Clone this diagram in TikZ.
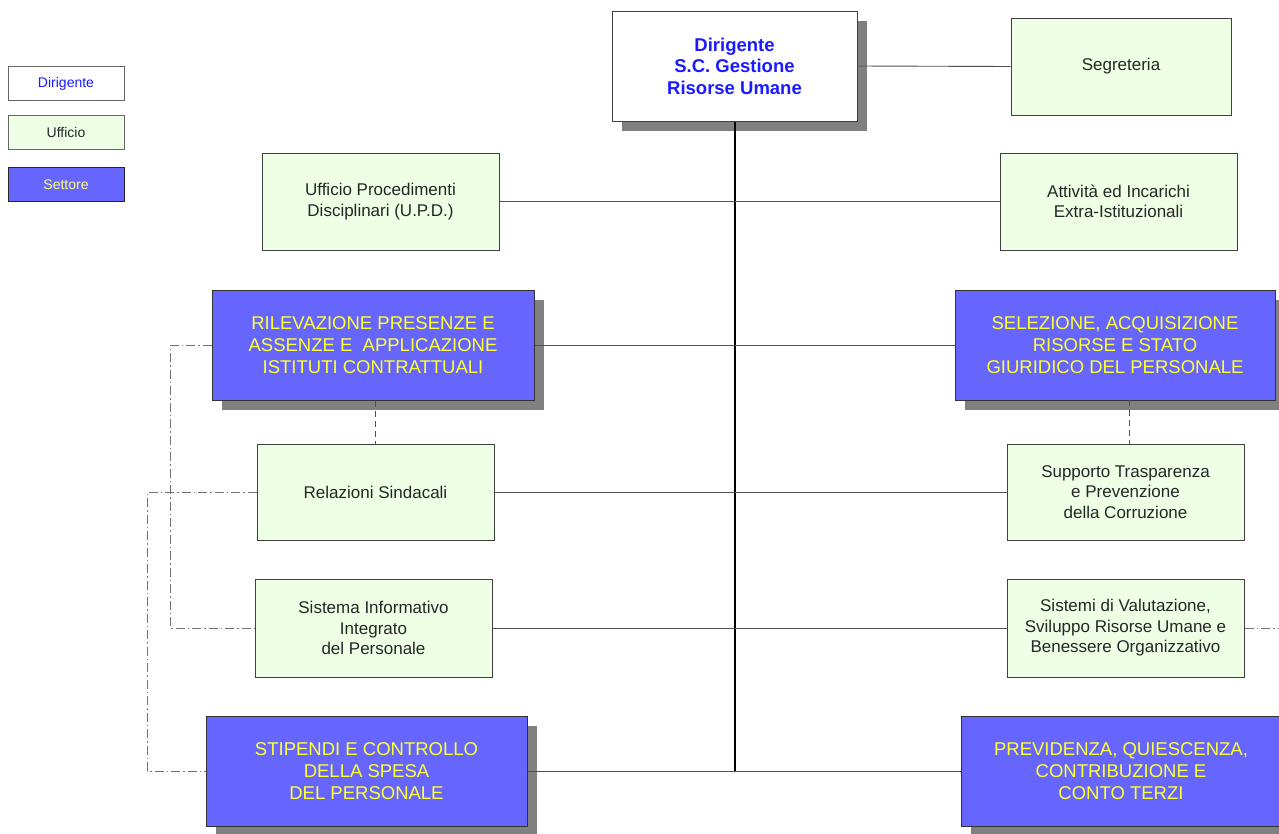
\documentclass[tikz,border=0pt]{standalone}
\usepackage{fontspec}
\setmainfont{Liberation Sans}
\usetikzlibrary{shadows}
\definecolor{settorefill}{HTML}{6666FF}
\definecolor{settoretext}{HTML}{FFFF33}
\definecolor{ufficiofill}{HTML}{EEFFE6}
\definecolor{dirtext}{HTML}{1A1AFF}
\definecolor{boxline}{HTML}{404040}
\definecolor{linkline}{HTML}{505050}
\begin{document}
\begin{tikzpicture}[x=1pt,y=-1pt,
  base/.style={draw=boxline, line width=1pt, align=center, inner sep=2pt},
  shadowed/.style={drop shadow={shadow xshift=10pt, shadow yshift=-10pt, fill=black!50, opacity=1}},
  dirbox/.style={base, fill=white, text=dirtext, font=\fontsize{18.5}{21.5}\selectfont\bfseries, shadowed},
  ufficio/.style={base, fill=ufficiofill, text=black!85, font=\fontsize{17}{20.5}\selectfont},
  settore/.style={base, draw=black!80, fill=settorefill, text=settoretext, font=\fontsize{18.5}{22}\selectfont, shadowed},
  legend/.style={base, draw=black!60, minimum width=116, minimum height=34, font=\fontsize{14}{16}\selectfont},
  link/.style={draw=linkline, line width=0.9pt},
  trunk/.style={draw=black, line width=2pt},
  dashlink/.style={draw=linkline, line width=0.9pt, dash pattern=on 6pt off 4pt},
  dashdot/.style={draw=black!55, line width=0.9pt, dash pattern=on 9pt off 3pt on 1.5pt off 3pt}]
\useasboundingbox (0,0) rectangle (1279,833);
\clip (0,0) rectangle (1279,833);

% legend
\node[legend, fill=white, text=dirtext] (lgdir) at (66,83.5) {Dirigente};
\node[legend, fill=ufficiofill, text=black!85] (lgudf) at (66,132) {Ufficio};
\node[legend, draw=black!85, fill=settorefill, text=settoretext!70!white] (lgset) at (66,184.5) {Settore};

% head of the structure
\node[dirbox, minimum width=245, minimum height=110] (dir) at (734.5,66) {Dirigente\\S.C. Gestione\\Risorse Umane};
\node[ufficio, minimum width=220, minimum height=97] (segr) at (1121,66.5) {Segreteria};

% offices
\node[ufficio, minimum width=237, minimum height=97] (upd) at (380.5,201.5) {Ufficio Procedimenti\\Disciplinari (U.P.D.)};
\node[ufficio, minimum width=237, minimum height=97] (extra) at (1118.5,201.5) {Attività ed Incarichi\\Extra-Istituzionali};
\node[ufficio, minimum width=237, minimum height=96] (sind) at (375.5,492) {Relazioni Sindacali};
\node[ufficio, minimum width=237, minimum height=96] (trasp) at (1125.5,492) {Supporto Trasparenza\\e Prevenzione\\della Corruzione};
\node[ufficio, minimum width=237, minimum height=98] (sistinf) at (373.5,628) {Sistema Informativo\\Integrato\\del Personale};
\node[ufficio, minimum width=237, minimum height=98] (valut) at (1125.5,628) {Sistemi di Valutazione,\\Sviluppo Risorse Umane e\\Benessere Organizzativo};

% sectors
\node[settore, minimum width=322, minimum height=110] (ril) at (373,345) {RILEVAZIONE PRESENZE E\\ASSENZE E\ \ APPLICAZIONE\\ISTITUTI CONTRATTUALI};
\node[settore, minimum width=320, minimum height=110] (sel) at (1115,345) {SELEZIONE, ACQUISIZIONE\\RISORSE E STATO\\GIURIDICO DEL PERSONALE};
\node[settore, minimum width=321, minimum height=110] (stip) at (366.5,771) {STIPENDI E CONTROLLO\\DELLA SPESA\\DEL PERSONALE};
\node[settore, minimum width=320, minimum height=110] (prev) at (1121,771) {PREVIDENZA, QUIESCENZA,\\CONTRIBUZIONE E\\CONTO TERZI};

% trunk and branches
\coordinate (trunkend) at (dir.south |- stip.east);
\path[trunk] (dir.south) -- (trunkend);
\path[link] (dir.east) -- (segr.west);
\path[link] (upd.east) -- (extra.west);
\path[link] (ril.east) -- (sel.west);
\path[link] (sind.east) -- (trasp.west);
\path[link] (sistinf.east) -- (valut.west);
\path[link] (stip.east) -- (prev.west);

% dependencies inside the sectors
\path[dashlink] (ril.south -| sind.north) -- (sind.north);
\coordinate (selfoot) at (1129,400);
\path[dashlink] (selfoot) -- (selfoot |- trasp.north);

% functional links
\coordinate (lnkA) at (170,0);
\coordinate (lnkB) at (147,0);
\path[dashdot] (ril.west) -- (ril.west -| lnkA) -- (sistinf.west -| lnkA) -- (sistinf.west);
\path[dashdot] (sind.west) -- (sind.west -| lnkB) -- (stip.west -| lnkB) -- (stip.west);
\coordinate (rightedge) at (1279,628);
\path[dashdot] (valut.east) -- (rightedge);
\end{tikzpicture}
\end{document}
